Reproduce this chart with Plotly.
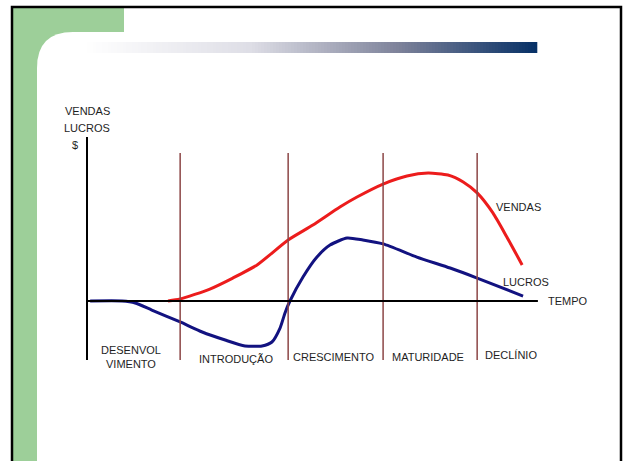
import plotly.graph_objects as go

# ---------------- data ----------------
vendas_t = [18.0, 20.7, 27.3, 32.4, 37.8, 44.7, 50.2, 56.2, 60.0, 65.8, 71.1, 75.8, 80.2, 83.6, 86.7, 90.2, 93.3, 96.7]
vendas_v = [0.0, 1.2, 7.3, 14.0, 22.0, 37.2, 46.3, 57.3, 63.4, 71.3, 76.2, 78.0, 76.8, 72.6, 65.9, 53.7, 39.0, 22.0]

lucros_t = [0.7, 7.8, 10.7, 14.4, 20.7, 25.6, 30.7, 35.1, 38.9, 41.1, 42.9, 44.0, 45.1, 48.0, 51.1, 54.0, 57.8, 61.3, 65.8, 73.3, 80.7, 86.7, 96.9]
lucros_v = [0.0, 0.0, -1.2, -5.5, -12.8, -18.9, -23.8, -27.4, -27.4, -25.0, -16.5, -7.3, 0.0, 14.6, 26.8, 34.1, 38.4, 37.2, 34.8, 26.8, 20.1, 14.0, 3.0]

stage_bounds = [20.7, 44.7, 65.8, 86.7]
stage_labels = ["DESENVOL<br>VIMENTO", "INTRODUÇÃO", "CRESCIMENTO", "MATURIDADE", "DECLÍNIO"]
stage_centers = [9.8, 33.1, 54.9, 75.8, 94.2]

# ---------------- page geometry (pixels) ----------------
W, H = 624, 461
X0PX, PXT = 87, 4.5      # time 0 at pixel 87, 4.5 px per unit
Y0PX, PXV = 301, 1.64    # value 0 at pixel 301, 1.64 px per unit
xr = [-X0PX / PXT, (W - X0PX) / PXT]
yr = [(Y0PX - H) / PXV, Y0PX / PXV]


def px(x):
    return x / W


def py(y):
    return 1 - y / H


TXT = dict(family="Arial, Liberation Sans, sans-serif", size=11, color="#1e1e1e")
GREEN = "#9dcf99"

fig = go.Figure()

shapes = []
# green decorations
shapes.append(dict(type="rect", xref="paper", yref="paper", x0=px(12), x1=px(124), y0=py(8), y1=py(80),
                   fillcolor=GREEN, line_width=0, layer="below"))
shapes.append(dict(type="rect", xref="paper", yref="paper", x0=px(12), x1=px(38), y0=py(8), y1=py(470),
                   fillcolor=GREEN, line_width=0, layer="below"))
# white rounded corner
r = 36
path = (f"M {px(37)},{py(470)} L {px(37)},{py(32 + r)} "
        f"Q {px(37)},{py(32)} {px(37 + r)},{py(32)} "
        f"L {px(130)},{py(32)} L {px(130)},{py(470)} Z")
shapes.append(dict(type="path", xref="paper", yref="paper", path=path, fillcolor="white", line_width=0, layer="below"))


# gradient bar
def lerp(c1, c2, f):
    return tuple(round(a + (b - a) * f) for a, b in zip(c1, c2))


stops = [(84, (255, 255, 255)), (250, (222, 222, 230)), (400, (124, 129, 153)), (537, (6, 48, 102))]
x = 84
step = 3
while x < 537:
    xm = x + step / 2
    for (xa, ca), (xb, cb) in zip(stops[:-1], stops[1:]):
        if xa <= xm <= xb:
            c = lerp(ca, cb, (xm - xa) / (xb - xa))
            break
    shapes.append(dict(type="rect", xref="paper", yref="paper", x0=px(x), x1=px(min(x + step, 537) + 0.3),
                       y0=py(42), y1=py(53), fillcolor="rgb(%d,%d,%d)" % c, line_width=0, layer="below"))
    x += step

# outer border
shapes.append(dict(type="rect", xref="paper", yref="paper", x0=px(12), x1=px(621), y0=py(7), y1=py(475),
                   line=dict(color="black", width=2.5), fillcolor="rgba(0,0,0,0)"))

# stage boundary lines
for b in stage_bounds:
    shapes.append(dict(type="line", xref="x", yref="y", x0=b, x1=b, y0=(Y0PX - 360) / PXV, y1=(Y0PX - 153) / PXV,
                       line=dict(color="#8c4646", width=1.5)))
# axes
shapes.append(dict(type="line", xref="x", yref="y", x0=0, x1=0, y0=(Y0PX - 360) / PXV, y1=100,
                   line=dict(color="black", width=2)))
shapes.append(dict(type="line", xref="x", yref="y", x0=0, x1=100.2, y0=0, y1=0,
                   line=dict(color="black", width=2)))

fig.add_trace(go.Scatter(x=vendas_t, y=vendas_v, mode="lines", line=dict(color="#ec1c1c", width=3, shape="spline", smoothing=0.6),
                         name="VENDAS", hoverinfo="skip"))
fig.add_trace(go.Scatter(x=lucros_t, y=lucros_v, mode="lines", line=dict(color="#121280", width=3, shape="spline", smoothing=0.6),
                         name="LUCROS", hoverinfo="skip"))

ann = []
ann.append(dict(x=0, y=(Y0PX - 111) / PXV, text="VENDAS", showarrow=False, xanchor="center", yanchor="middle", font=TXT))
ann.append(dict(x=0, y=(Y0PX - 128) / PXV, text="LUCROS", showarrow=False, xanchor="center", yanchor="middle", font=TXT))
ann.append(dict(x=(75 - X0PX) / PXT, y=(Y0PX - 145) / PXV, text="$", showarrow=False, xanchor="center", yanchor="middle", font=TXT))

label_y = [(Y0PX - 356.5) / PXV, (Y0PX - 359) / PXV, (Y0PX - 357) / PXV, (Y0PX - 357) / PXV, (Y0PX - 355) / PXV]
for c, lab, ly in zip(stage_centers, stage_labels, label_y):
    ann.append(dict(x=c, y=ly, text=lab, showarrow=False, xanchor="center", yanchor="middle", font=TXT))

ann.append(dict(x=102, y=0, text="TEMPO", showarrow=False, xanchor="left", yanchor="middle", font=TXT))
ann.append(dict(x=90.4, y=(Y0PX - 207) / PXV, text="VENDAS", showarrow=False, xanchor="left", yanchor="middle", font=TXT))
ann.append(dict(x=92.0, y=(Y0PX - 282) / PXV, text="LUCROS", showarrow=False, xanchor="left", yanchor="middle", font=TXT))

fig.update_layout(
    width=W, height=H,
    margin=dict(l=0, r=0, t=0, b=0),
    paper_bgcolor="white", plot_bgcolor="rgba(0,0,0,0)",
    showlegend=False,
    xaxis=dict(range=xr, visible=False, fixedrange=True),
    yaxis=dict(range=yr, visible=False, fixedrange=True),
    shapes=shapes,
    annotations=ann,
)

fig.write_html("out.html")
